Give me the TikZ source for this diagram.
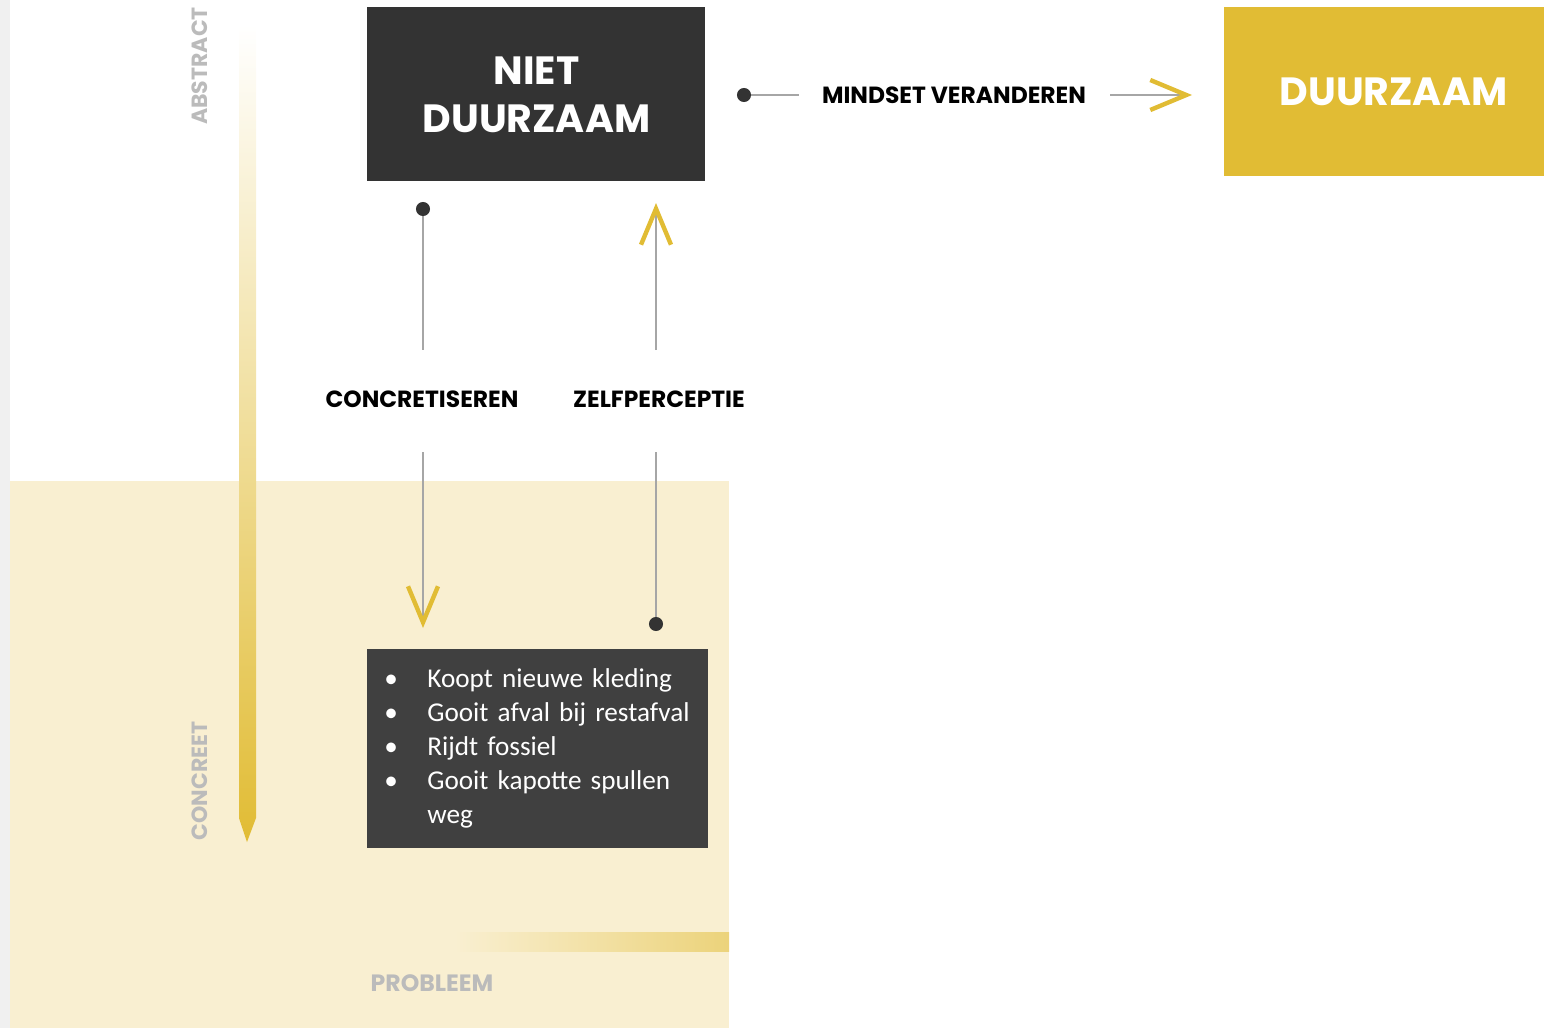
\documentclass[tikz,border=0pt]{standalone}
\usepackage{fontspec}
\setmainfont{Carlito}
\newfontfamily\headfont{Poppins}
\usetikzlibrary{arrows.meta}
\definecolor{goud}{HTML}{E1BC34}
\definecolor{licht}{HTML}{F9EFD1}
\definecolor{donker}{HTML}{333333}
\definecolor{donker2}{HTML}{404040}
\definecolor{labelgrijs}{HTML}{BBBBBB}
\definecolor{lijn}{HTML}{A6A6A6}
\definecolor{strook}{HTML}{F0F0F0}
\tikzstyle{blok}=[inner sep=0pt,anchor=north west,text=white,align=center]
\tikzstyle{kop}=[font=\headfont\bfseries\fontsize{11.7}{13}\selectfont,text=black,inner sep=0pt]
\tikzstyle{as}=[font=\headfont\bfseries\fontsize{11}{13}\selectfont,text=labelgrijs,inner sep=0pt]
\tikzstyle{verbind}=[draw=lijn,line width=0.75pt]

\begin{document}
\begin{tikzpicture}[x=0.5pt,y=-0.5pt]
      \tikzset{pijl/.style = {verbind,-{Straight Barb[length=18pt,width=15pt,line width=2.2pt,color=goud]}},
               punt/.style = {verbind,{Circle[length=7pt,color=donker]}-}}
      \useasboundingbox (0,0) rectangle (1544,1028);
      % achtergrond
      \fill[strook] (0,0) rectangle (10,1028);
      \fill[licht] (10,481) rectangle (729,1028);
      % assen
      \shade[top color=white,bottom color=goud] (239,25) -- (256,25) -- (256,818) -- (247,842) -- (239,818) -- cycle;
      \shade[left color=licht,right color=goud!55!licht] (455,932) rectangle (729,951);
      \node[as,rotate=90] (abstract) at (200,66) {ABSTRACT};
      \node[as,rotate=90] (concreet) at (200,781) {CONCREET};
      \node[as,font=\headfont\bfseries\fontsize{11.8}{13}\selectfont] (probleem) at (432,983) {PROBLEEM};
      % blokken
      \node[blok,fill=donker,minimum width=169pt,minimum height=87pt,
            font=\headfont\bfseries\fontsize{19.7}{24}\selectfont] (niet) at (367,7) {NIET\\DUURZAAM};
      \node[blok,fill=goud,minimum width=169pt,minimum height=84.5pt,
            font=\headfont\bfseries\fontsize{19.7}{24}\selectfont] (duurzaam) at (1224,7) {DUURZAAM};
      \node[blok,fill=donker2,minimum height=99.5pt,align=left,text width=153.5pt,inner xsep=8.5pt,
            font=\fontsize{13.6}{17}\selectfont] (gedrag) at (367,649)
            {\begin{tabular}{@{}p{21.5pt}@{}l@{}}
             \textbullet & Koopt nieuwe kleding\\
             \textbullet & Gooit afval bij restafval\\
             \textbullet & Rijdt fossiel\\
             \textbullet & Gooit kapotte spullen\\
                         & weg
             \end{tabular}};
      % labels
      \node[kop] (mindset) at (954,95) {MINDSET VERANDEREN};
      \node[kop] (concr) at (422,399) {CONCRETISEREN};
      \node[kop] (zelf) at (659,399) {ZELFPERCEPTIE};
      \coordinate (m1) at (737,95);
      \coordinate (m2) at (799,95);
      \coordinate (m3) at (1110,95);
      \coordinate (m4) at (1192,95);
      \coordinate (c1) at (423,202);
      \coordinate (c2) at (423,350);
      \coordinate (c3) at (423,452);
      \coordinate (c4) at (423,628);
      \coordinate (z1) at (656,350);
      \coordinate (z2) at (656,203);
      \coordinate (z3) at (656,452);
      \coordinate (z4) at (656,631);
      \draw[punt] (m1) -- (m2);
      \draw[pijl] (m3) -- (m4);
      \draw[punt] (c1) -- (c2);
      \draw[pijl] (c3) -- (c4);
      \draw[pijl] (z1) -- (z2);
      \draw[punt] (z4) -- (z3);
  \end{tikzpicture}
\end{document}
